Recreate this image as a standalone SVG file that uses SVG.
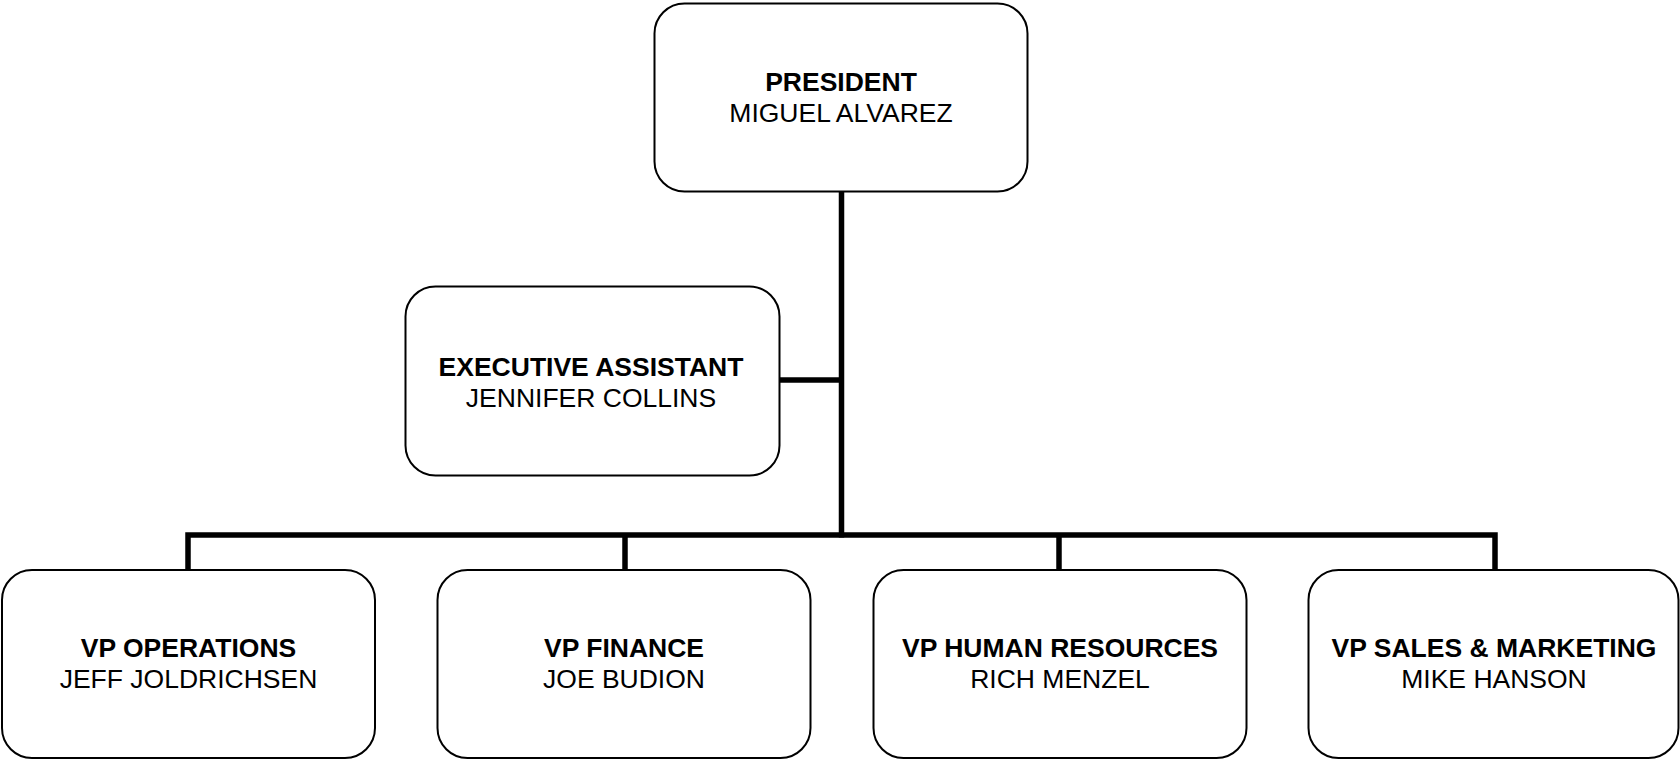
<svg xmlns="http://www.w3.org/2000/svg" width="1680" height="760" viewBox="0 0 1680 760">
<style>
.box{fill:#fff;stroke:#000;stroke-width:2}
.t{font-family:"Liberation Sans",Arial,sans-serif;text-anchor:middle;fill:#000;font-size:26.5px}
.b{font-weight:bold}
.c{fill:none;stroke:#000;stroke-width:5.5}
</style>
<rect width="1680" height="760" fill="#fff"/>
<g id="connectors">
<path class="c" d="M841.5 192V537.5"/>
<path class="c" d="M780 380H841.5"/>
<path class="c" d="M188 570V535H1495V570"/>
<path class="c" d="M625 535V570"/>
<path class="c" d="M1059 535V570"/>
</g>
<g id="president">
<rect class="box" x="654.5" y="3.5" width="373" height="188" rx="30"/>
<text class="t b" x="841" y="91">PRESIDENT</text>
<text class="t" x="841" y="122">MIGUEL ALVAREZ</text>
</g>
<g id="exec-assistant">
<rect class="box" x="405.5" y="286.5" width="374" height="189" rx="30"/>
<text class="t b" x="591" y="376">EXECUTIVE ASSISTANT</text>
<text class="t" x="591" y="407">JENNIFER COLLINS</text>
</g>
<g id="vp-operations">
<rect class="box" x="2" y="570" width="373" height="188" rx="30"/>
<text class="t b" x="188.5" y="657">VP OPERATIONS</text>
<text class="t" x="188.5" y="688">JEFF JOLDRICHSEN</text>
</g>
<g id="vp-finance">
<rect class="box" x="437.5" y="570" width="373" height="188" rx="30"/>
<text class="t b" x="624" y="657">VP FINANCE</text>
<text class="t" x="624" y="688">JOE BUDION</text>
</g>
<g id="vp-hr">
<rect class="box" x="873.5" y="570" width="373" height="188" rx="30"/>
<text class="t b" x="1060" y="657">VP HUMAN RESOURCES</text>
<text class="t" x="1060" y="688">RICH MENZEL</text>
</g>
<g id="vp-sales">
<rect class="box" x="1308.5" y="570" width="370" height="188" rx="30"/>
<text class="t b" x="1494" y="657">VP SALES &amp; MARKETING</text>
<text class="t" x="1494" y="688">MIKE HANSON</text>
</g>
</svg>
